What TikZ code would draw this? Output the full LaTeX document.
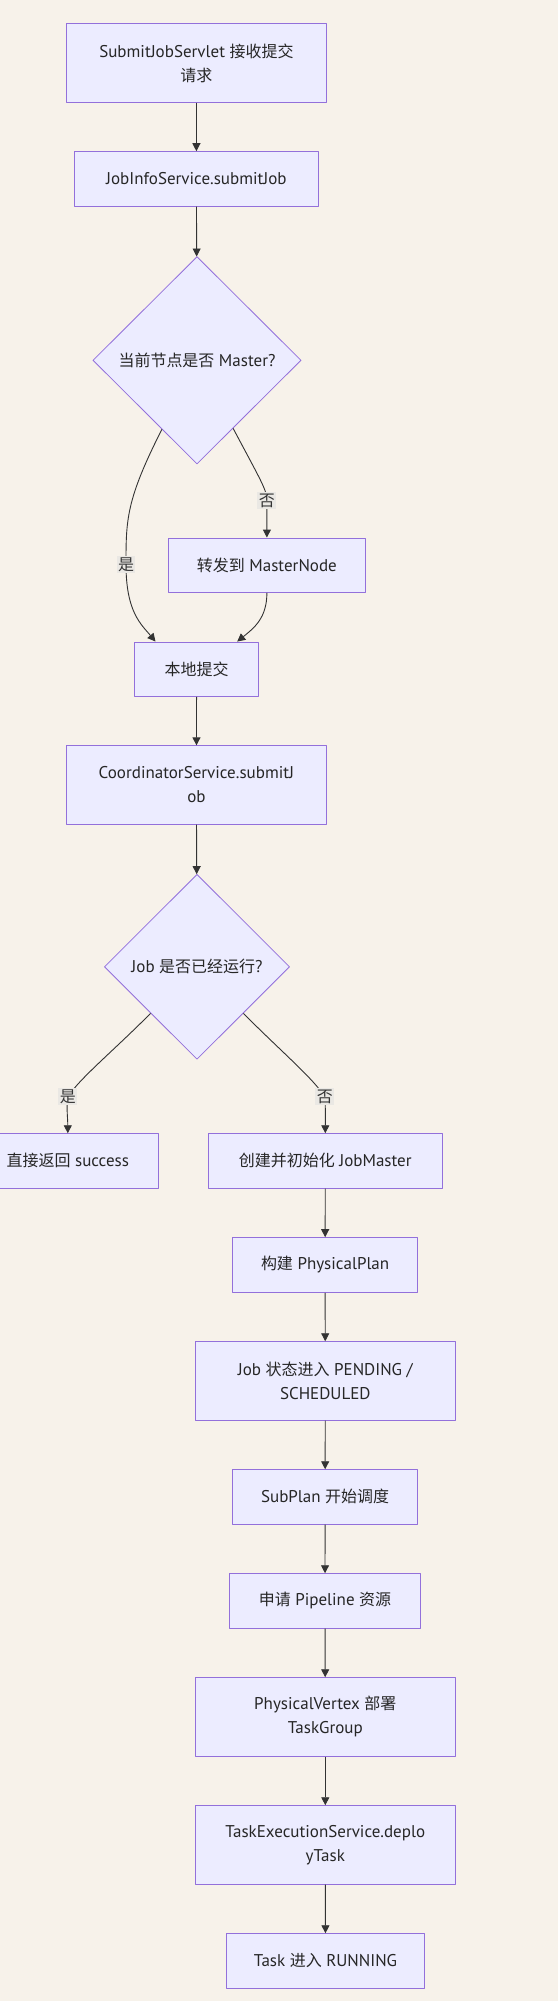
\documentclass[tikz,border=0pt]{standalone}
\usepackage{fontspec}
\setmainfont{PT Sans}
\newfontfamily\cjkfont[Scale=0.94]{Noto Sans CJK SC}
\newcommand{\zh}[1]{{\cjkfont #1}}
\usetikzlibrary{shapes.geometric,arrows.meta}
\definecolor{bgpaper}{HTML}{F7F2EA}
\definecolor{nodefill}{HTML}{ECECFF}
\definecolor{nodeline}{HTML}{9370DB}
\definecolor{edgeline}{HTML}{333333}
\definecolor{lblfill}{HTML}{EAE8E4}
\begin{document}
\begin{tikzpicture}[x=1pt,y=-1pt,font=\fontsize{17}{24}\selectfont,line join=round,
	>={Triangle[length=8pt,width=8pt]},
	proc/.style={draw=nodeline,fill=nodefill,line width=1pt,rectangle,align=center,inner sep=0pt,text=black!85},
	decide/.style={draw=nodeline,fill=nodefill,line width=0.8pt,diamond,align=center,inner sep=0pt,text=black!85},
	lbl/.style={fill=lblfill,inner sep=1.5pt,text=black!80,font=\fontsize{17}{24}\cjkfont},
	flow/.style={draw=edgeline,line width=0.9pt}]
	\fill[bgpaper] (0,0) rectangle (558,2001);
	\useasboundingbox (0,0) rectangle (558,2001);
	% upper part
	\node[proc,minimum width=260.5,minimum height=78.3] (submit) at (196.4,62.9) {SubmitJobServlet \zh{接收提交}\\\zh{请求}};
	\node[proc,minimum width=244.1,minimum height=54.3] (info) at (196.4,178.9) {JobInfoService.submitJob};
	\node[decide,minimum width=208.2,minimum height=207.4] (master) at (197,360.3) {\zh{当前节点是否} Master?};
	\node[proc,minimum width=197.1,minimum height=54.3] (forward) at (266.9,565.2) {\zh{转发到} MasterNode};
	\node[proc,minimum width=124.2,minimum height=54.3] (local) at (196.6,669.2) {\zh{本地提交}};
	\node[proc,minimum width=260.5,minimum height=78.3] (coord) at (196.4,785) {CoordinatorService.submitJ\\ob};
	\node[decide,minimum width=185.3,minimum height=185] (running) at (197,966.8) {Job \zh{是否已经运行}?};
	% lower part
	\node[proc,minimum width=182.1,minimum height=54.3] (success) at (67.8,1160.9) {\zh{直接返回} success};
	\node[proc,minimum width=234.1,minimum height=54.3] (jobmaster) at (325.3,1160.9) {\zh{创建并初始化} JobMaster};
	\node[proc,minimum width=185.3,minimum height=54.6] (plan) at (325.1,1265) {\zh{构建} PhysicalPlan};
	\node[proc,minimum width=260.5,minimum height=78.3] (pending) at (325.3,1380.9) {Job \zh{状态进入} PENDING /\\SCHEDULED};
	\node[proc,minimum width=185.3,minimum height=54.3] (subplan) at (325.1,1496.9) {SubPlan \zh{开始调度}};
	\node[proc,minimum width=191.4,minimum height=54.3] (pipeline) at (325,1600.9) {\zh{申请} Pipeline \zh{资源}};
	\node[proc,minimum width=260.5,minimum height=78.3] (vertex) at (325.3,1716.9) {PhysicalVertex \zh{部署}\\TaskGroup};
	\node[proc,minimum width=260.5,minimum height=78.3] (deploy) at (325.3,1844.9) {TaskExecutionService.deplo\\yTask};
	\node[proc,minimum width=198.3,minimum height=54.3] (task) at (325.5,1960.9) {Task \zh{进入} RUNNING};
	% label points
	\coordinate (yesA) at (126,564.3);
	\coordinate (noA) at (266.9,500.7);
	\coordinate (yesB) at (67.9,1096.7);
	\coordinate (noB) at (324.8,1096.7);
	% connectors
	\draw[flow,->] (submit) -- (info);
	\draw[flow,->] (info) -- (master);
	\draw[flow,->] (master) .. controls (126,500) and (126,520) .. (yesA)
		.. controls (126,612) and (140.9,624) .. ([xshift=-41.1pt]local.north);
	\draw[flow,->] (master) .. controls (261.6,482) and (266.9,490) .. (noA)
		.. controls (266.9,515) and (266.9,525) .. (forward.north);
	\draw[flow,->] (forward) .. controls (266.9,618) and (254.1,628) .. ([xshift=40.6pt]local.north);
	\draw[flow,->] (local) -- (coord);
	\draw[flow,->] (coord) -- (running);
	\draw[flow,->] (running) .. controls (112.1,1052) and (80.1,1078) .. (yesB)
		.. controls (66.2,1108) and (67.8,1118) .. (success.north);
	\draw[flow,->] (running) .. controls (281.8,1052) and (312.8,1078) .. (noB)
		.. controls (325.6,1108) and (325.3,1118) .. (jobmaster.north);
	\draw[flow,->] (jobmaster) -- (plan);
	\draw[flow,->] (plan) -- (pending);
	\draw[flow,->] (pending) -- (subplan);
	\draw[flow,->] (subplan) -- (pipeline);
	\draw[flow,->] (pipeline) -- (vertex);
	\draw[flow,->] (vertex) -- (deploy);
	\draw[flow,->] (deploy) -- (task);
	% edge labels
	\node[lbl] (yesAl) at (yesA) {是};
	\node[lbl] (noAl) at (noA) {否};
	\node[lbl] (yesBl) at (yesB) {是};
	\node[lbl] (noBl) at (noB) {否};
\end{tikzpicture}
\end{document}
